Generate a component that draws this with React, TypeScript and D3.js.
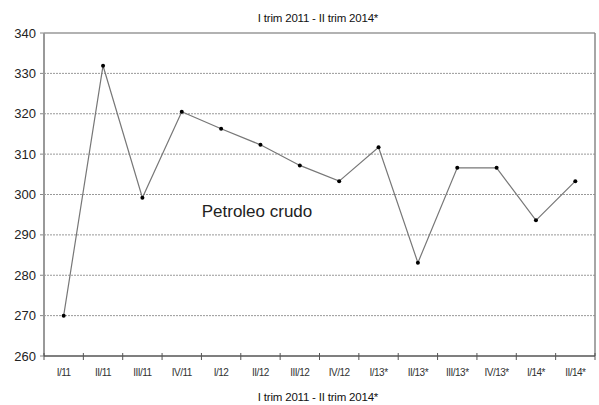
import React from "react";
import * as d3 from "d3";

const categories = ["I/11", "II/11", "III/11", "IV/11", "I/12", "II/12", "III/12", "IV/12", "I/13*", "II/13*", "III/13*", "IV/13*", "I/14*", "II/14*"];
const values = [270, 331.9, 299.2, 320.5, 316.3, 312.3, 307.2, 303.3, 311.7, 283.1, 306.6, 306.6, 293.6, 303.3];
const yTicks = [260, 270, 280, 290, 300, 310, 320, 330, 340];
const title = "I trim 2011 - II trim 2014*";
const seriesLabel = "Petroleo crudo";

const W = 599, H = 405;
const left = 44, right = 595, top = 33, bottom = 356;

export default function App() {
  const x = d3.scaleBand<string>().domain(categories).range([left, right]);
  const y = d3.scaleLinear().domain([260, 340]).range([bottom, top]);
  const line = d3.line<number>().x((_, i) => (x(categories[i]) as number) + x.bandwidth() / 2).y((d) => y(d));
  const font = "'Liberation Sans', Arial, sans-serif";
  const boundaries = categories.map((c) => x(c) as number).concat([right]);
  return (
    <svg width={W} height={H} style={{ position: "absolute", left: 0, top: 0, background: "#fff" }} fontFamily={font}>
      <rect x={0} y={0} width={W} height={H} fill="#fff" />
      <text x={318} y={22} textAnchor="middle" fontSize={11.5} fill="#111" letterSpacing={-0.2}>{title}</text>
      {yTicks.map((t) => (
        <g key={t}>
          {t !== 260 && t !== 340 && (
            <line x1={left} x2={right} y1={y(t)} y2={y(t)} stroke="#999" strokeWidth={1} strokeDasharray="2,1" />
          )}
          <line x1={left - 4} x2={left} y1={y(t)} y2={y(t)} stroke="#888" strokeWidth={1} />
          <text x={36} y={y(t) + 4.5} textAnchor="end" fontSize={13} fill="#222">{t}</text>
        </g>
      ))}
      <line x1={left} x2={right} y1={top} y2={top} stroke="#999" strokeWidth={1.5} />
      <line x1={right} x2={right} y1={top} y2={bottom} stroke="#888" strokeWidth={1.5} />
      <line x1={left} x2={left} y1={top} y2={bottom} stroke="#999" strokeWidth={2} />
      <line x1={left} x2={right} y1={bottom} y2={bottom} stroke="#555" strokeWidth={1.5} />
      {boundaries.map((b, i) => (
        <line key={i} x1={b} x2={b} y1={bottom - 3} y2={bottom + 4} stroke="#555" strokeWidth={1} />
      ))}
      {categories.map((c) => (
        <text key={c} x={(x(c) as number) + x.bandwidth() / 2} y={bottom + 20} textAnchor="middle" fontSize={10} fill="#333" letterSpacing={-0.5}>{c}</text>
      ))}
      <path d={line(values) || ""} fill="none" stroke="#777" strokeWidth={1.2} />
      {values.map((v, i) => (
        <circle key={i} cx={(x(categories[i]) as number) + x.bandwidth() / 2} cy={y(v)} r={2} fill="#000" />
      ))}
      <text x={257} y={217} textAnchor="middle" fontSize={17} fill="#222">{seriesLabel}</text>
      <text x={318} y={401} textAnchor="middle" fontSize={11.5} fill="#111" letterSpacing={-0.2}>{title}</text>
    </svg>
  );
}
